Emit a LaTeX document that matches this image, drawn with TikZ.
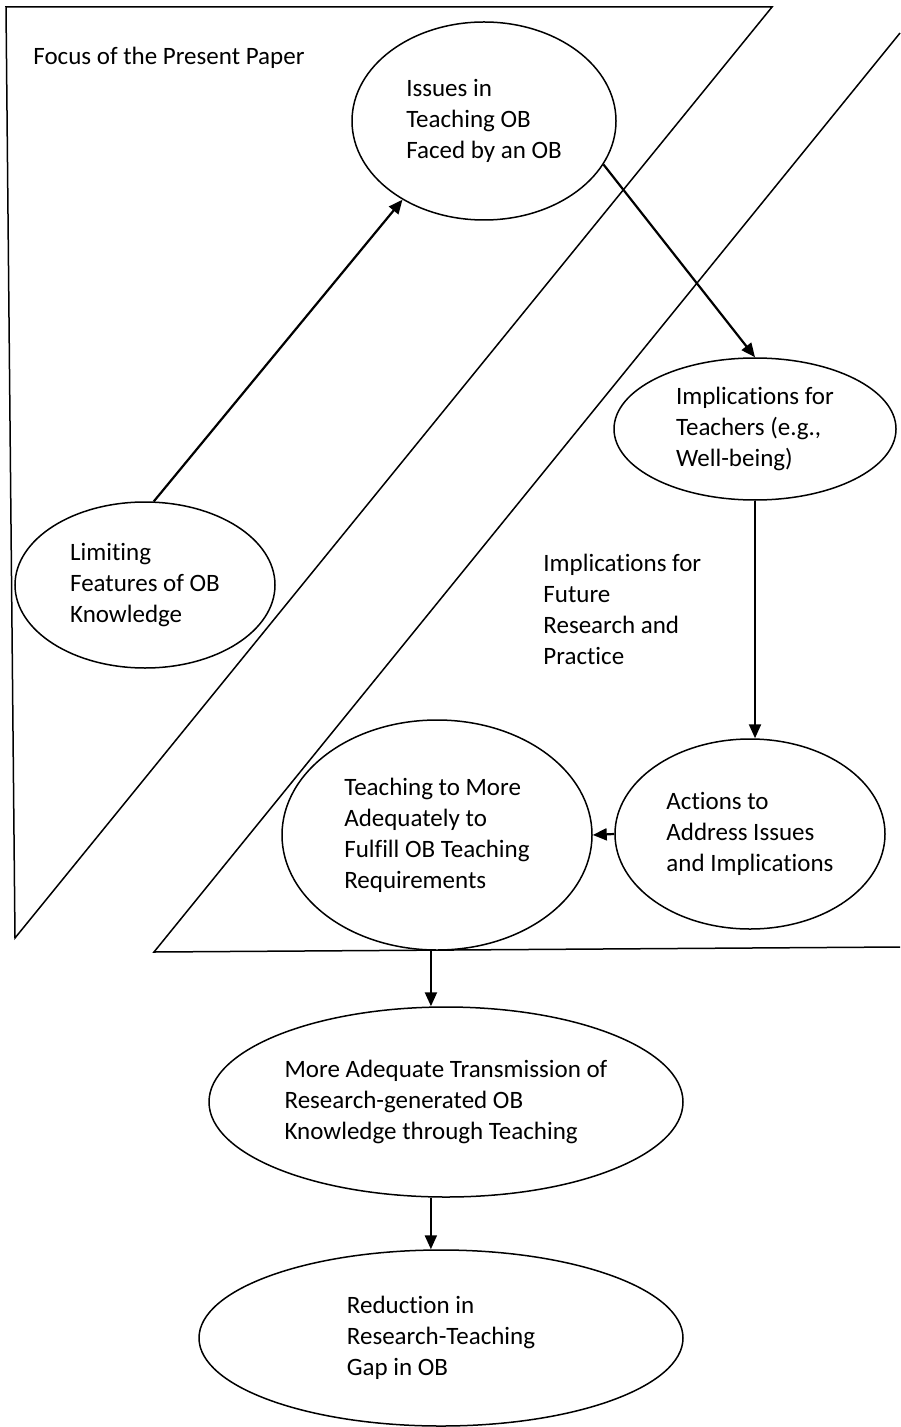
\documentclass[tikz,border=0pt]{standalone}
\usepackage{fontspec}
\setmainfont{Carlito}[Ligatures=NoCommon]
\usetikzlibrary{arrows.meta,shapes.geometric}
\tikzset{
  stage node/.style={draw,ellipse,fill=white,inner sep=0pt,align=left,
    line width=0.75pt,font=\fontsize{12.5}{15.5}\selectfont},
  flow arrow/.style={-{Triangle[length=7pt,width=6pt]},line width=1.1pt},
  region edge/.style={line width=0.75pt,line join=miter},
  region label/.style={inner sep=0pt,align=left,
    font=\fontsize{12.5}{15.5}\selectfont},
}

\begin{document}
\begin{tikzpicture}[x=0.5pt,y=-0.5pt]
  \useasboundingbox (0,0) rectangle (900,1427);

  % The two regions: the paper's focus and its implications.
  \draw[region edge] (6,7) -- (772,7) -- (15,938) -- cycle;
  \draw[region edge] (900,33) -- (154,952) -- (900,947);
  \node[region label,anchor=base west] (focus) at (33,65)
    {Focus of the Present Paper};
  \node[region label,anchor=west] (future) at (543,609)
    {Implications for\\Future\\Research and\\Practice};

  \node[stage node,minimum width=132pt,minimum height=99pt] (issues)
    at (484,121) {Issues in\\Teaching OB\\Faced by an OB};
  \node[stage node,minimum width=130pt,minimum height=83pt] (limiting)
    at (145,585) {Limiting\\Features of OB\\Knowledge};
  \node[stage node,minimum width=141pt,minimum height=71pt] (teachers)
    at (755,429) {Implications for\\Teachers (e.g.,\\Well-being)};
  \node[stage node,minimum width=135pt,minimum height=95pt] (actions)
    at (750,834) {Actions to\\Address Issues\\and Implications};
  \node[stage node,minimum width=155pt,minimum height=115pt] (teaching)
    at (437,835)
    {Teaching to More\\Adequately to\\Fulfill OB Teaching\\Requirements};
  \node[stage node,minimum width=237pt,minimum height=95pt] (transmission)
    at (446,1102) {More Adequate Transmission of\\Research-generated OB\\
    Knowledge through Teaching};
  \node[stage node,minimum width=242pt,minimum height=88pt] (reduction)
    at (441,1338) {Reduction in\\Research-Teaching\\Gap in OB};

  % Flow through the stages.
  \draw[flow arrow] (limiting.84) -- (issues.224);
  \draw[flow arrow] (issues.340) -- (teachers.north);
  \draw[flow arrow] (teachers.south) -- (teachers.south |- actions.north);
  \draw[flow arrow] (actions.west) -- (teaching.east);
  \draw[flow arrow] (teaching.267) -- (teaching.267 |- transmission.north);
  \draw[flow arrow] (transmission.261)
    -- (transmission.261 |- reduction.north);
\end{tikzpicture}
\end{document}
